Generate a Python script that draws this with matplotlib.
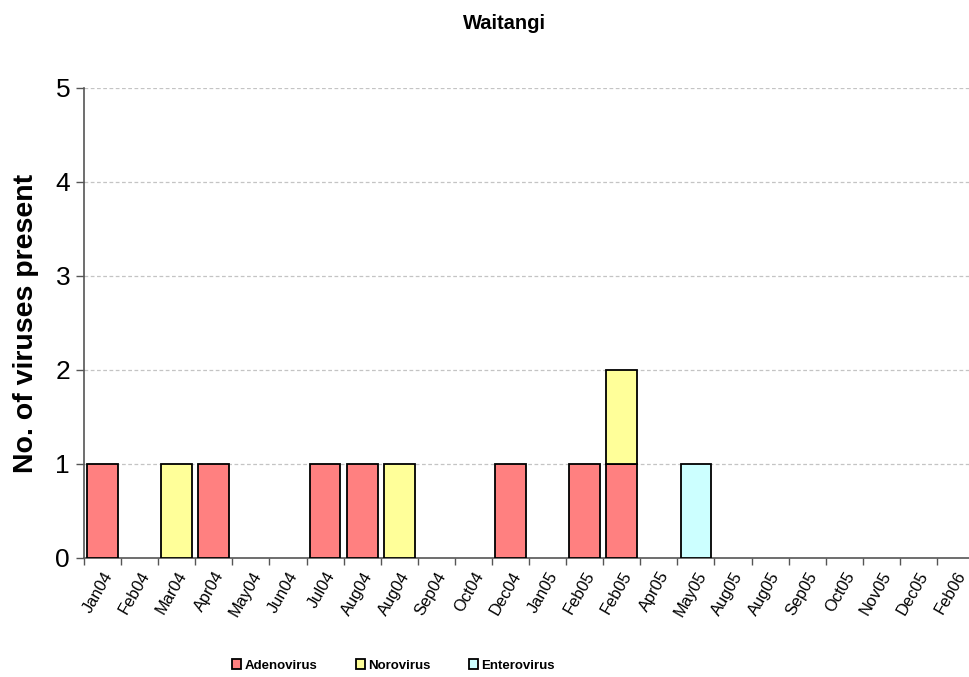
import matplotlib
matplotlib.use("Agg")
import matplotlib.pyplot as plt
import numpy as np

plt.rcParams['font.family'] = ['Liberation Sans', 'DejaVu Sans']

# category labels (as printed on the axis)
months = ["Jan04", "Feb04", "Mar04", "Apr04", "May04", "Jun04", "Jul04",
          "Aug04", "Aug04", "Sep04", "Oct04", "Dec04", "Jan05", "Feb05",
          "Feb05", "Apr05", "May05", "Aug05", "Aug05", "Sep05", "Oct05",
          "Nov05", "Dec05", "Feb06"]

adenovirus = [1, 0, 0, 1, 0, 0, 1, 1, 0, 0, 0, 1, 0, 1, 1, 0, 0, 0, 0, 0, 0, 0, 0, 0]
norovirus = [0, 0, 1, 0, 0, 0, 0, 0, 1, 0, 0, 0, 0, 0, 1, 0, 0, 0, 0, 0, 0, 0, 0, 0]
enterovirus = [0, 0, 0, 0, 0, 0, 0, 0, 0, 0, 0, 0, 0, 0, 0, 0, 1, 0, 0, 0, 0, 0, 0, 0]

series = [("Adenovirus", adenovirus, "#FF8080"),
          ("Norovirus", norovirus, "#FFFF99"),
          ("Enterovirus", enterovirus, "#CCFFFF")]

fig = plt.figure(figsize=(9.69, 6.77), dpi=100)
ax = fig.add_axes([0.0867, 0.1758, 0.9185, 0.6943])

x = np.arange(len(months))
bottom = np.zeros(len(months))
for name, vals, color in series:
    vals = np.array(vals, dtype=float)
    # zero-height bars would leave an outline on the baseline, so mask them
    heights = np.where(vals > 0, vals, np.nan)
    ax.bar(x, heights, width=0.83, bottom=bottom, color=color,
           edgecolor="black", linewidth=1.3, label=name, zorder=3)
    bottom += vals

ax.set_xlim(-0.5, len(months) - 0.5)
ax.set_ylim(0, 5)
ax.set_yticks(range(6))
ax.tick_params(axis='y', labelsize=19, length=6, width=1, color="#555555", pad=4)

# ticks on category boundaries, labels at category centres
ax.set_xticks(np.arange(len(months) + 1) - 0.5)
ax.set_xticklabels([])
ax.set_xticks(x, minor=True)
ax.set_xticklabels(months, minor=True, rotation=60, ha="right",
                   rotation_mode="anchor", fontsize=11.8)
ax.tick_params(axis='x', which='major', length=5, width=1, color="#555555")
ax.tick_params(axis='x', which='minor', length=0, pad=8)

for y in range(1, 6):
    ax.axhline(y, color="#c4c4c4", linewidth=0.9, linestyle=(0, (3, 2)), zorder=1)

for side in ("top", "right"):
    ax.spines[side].set_visible(False)
for side in ("left", "bottom"):
    ax.spines[side].set_color("#555555")
    ax.spines[side].set_linewidth(1.2)

ax.set_ylabel("No. of viruses present", fontsize=20.5, fontweight="bold", labelpad=12)
fig.text(0.521, 0.966, "Waitangi", ha="center", va="center",
         fontsize=14.5, fontweight="bold")

fig.legend(loc="center", bbox_to_anchor=(0.406, 0.017), ncol=3, frameon=False,
           prop={"size": 9.5, "weight": "bold"}, handlelength=0.7, handleheight=0.7,
           handletextpad=0.25, columnspacing=2.9)

fig.savefig("out.png", dpi=100)
